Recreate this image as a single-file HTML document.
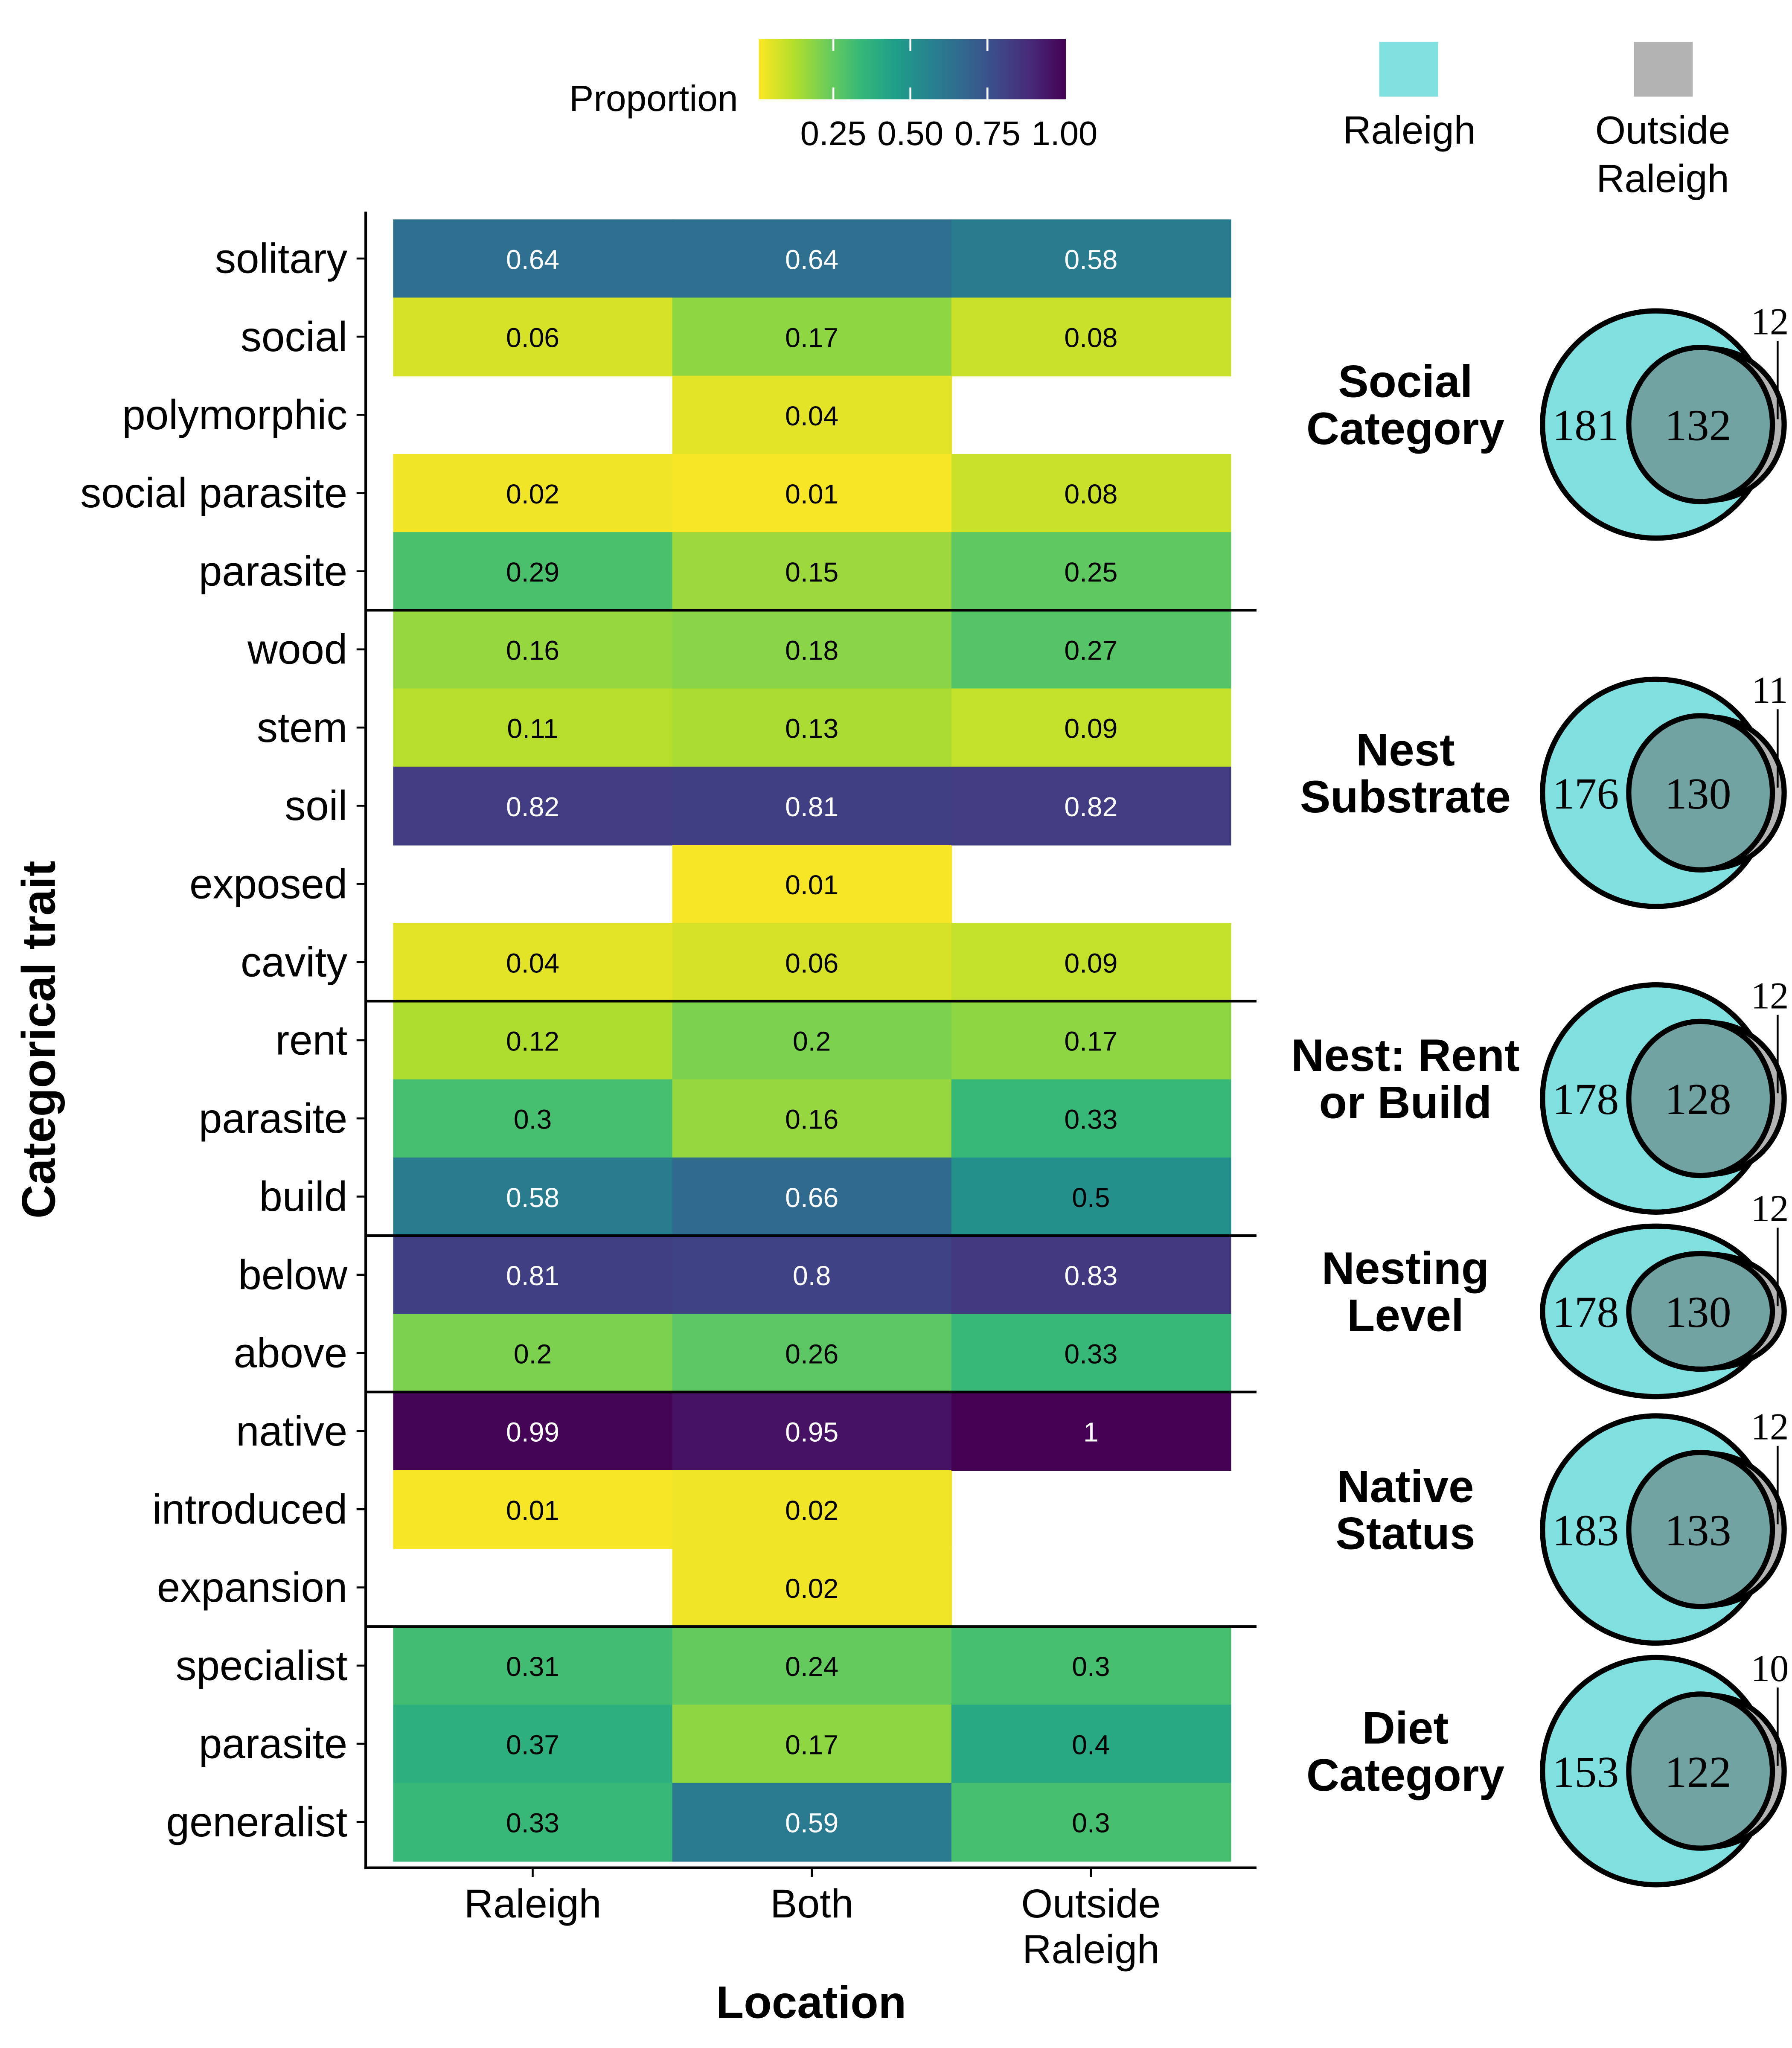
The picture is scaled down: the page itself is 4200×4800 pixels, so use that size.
<!DOCTYPE html>
<html><head><meta charset="utf-8"><style>html,body{margin:0;padding:0;background:#fff}svg{display:block}text{font-family:"Liberation Sans",sans-serif}text.serif{font-family:"Liberation Serif",serif}</style></head>
<body>
<svg id="chart" width="4200" height="4800" viewBox="0 0 1372 1568" xmlns="http://www.w3.org/2000/svg">
<defs><linearGradient id="vg" x1="0" x2="1" y1="0" y2="0">
<stop offset="0" stop-color="#fde725"/><stop offset="0.111" stop-color="#b5de2b"/><stop offset="0.222" stop-color="#6ece58"/><stop offset="0.333" stop-color="#35b779"/><stop offset="0.444" stop-color="#1f9e89"/><stop offset="0.556" stop-color="#26828e"/><stop offset="0.667" stop-color="#31688e"/><stop offset="0.778" stop-color="#3e4989"/><stop offset="0.889" stop-color="#482878"/><stop offset="1" stop-color="#440154"/></linearGradient></defs>
<g id="heat"></g>
<g id="venns"></g>
<text transform="translate(42,796) rotate(-90)" text-anchor="middle" font-size="36" font-weight="bold">Categorical trait</text>
<text x="621" y="1545" text-anchor="middle" font-size="35" font-weight="bold">Location</text>
<g>
<text x="565" y="85" text-anchor="end" font-size="28">Proportion</text>
<rect x="581" y="30" width="235" height="46" fill="url(#vg)"/>
<g stroke="#fff" stroke-width="1.5"><line x1="638" y1="30" x2="638" y2="39"/><line x1="638" y1="67" x2="638" y2="76"/><line x1="697" y1="30" x2="697" y2="39"/><line x1="697" y1="67" x2="697" y2="76"/><line x1="756" y1="30" x2="756" y2="39"/><line x1="756" y1="67" x2="756" y2="76"/></g>
<g font-size="26" text-anchor="middle"><text x="638" y="111">0.25</text><text x="697" y="111">0.50</text><text x="756" y="111">0.75</text><text x="815" y="111">1.00</text></g>
</g>
<g>
<rect x="1056" y="32" width="45" height="42" fill="#80e0e0"/>
<text x="1079" y="110" text-anchor="middle" font-size="30">Raleigh</text>
<rect x="1251" y="32" width="45" height="42" fill="#b3b3b3"/>
<text x="1273" y="110" text-anchor="middle" font-size="30">Outside</text>
<text x="1273" y="147" text-anchor="middle" font-size="30">Raleigh</text>
</g>
<script>
const rowLabels=["solitary","social","polymorphic","social parasite","parasite","wood","stem","soil","exposed","cavity","rent","parasite","build","below","above","native","introduced","expansion","specialist","parasite","generalist"];
const colLabels=["Raleigh","Both","Outside Raleigh"];
const raleighVals=[0.64,0.06,null,0.02,0.29,0.16,0.11,0.82,null,0.04,0.12,0.3,0.58,0.81,0.2,0.99,0.01,null,0.31,0.37,0.33];
const bothVals=[0.64,0.17,0.04,0.01,0.15,0.18,0.13,0.81,0.01,0.06,0.2,0.16,0.66,0.8,0.26,0.95,0.02,0.02,0.24,0.17,0.59];
const outsideVals=[0.58,0.08,null,0.08,0.25,0.27,0.09,0.82,null,0.09,0.17,0.33,0.5,0.83,0.33,1,null,null,0.3,0.4,0.3];
const groupBreaks=[5,10,13,15,18];
const vennTitles=[["Social","Category"],["Nest","Substrate"],["Nest: Rent","or Build"],["Nesting","Level"],["Native","Status"],["Diet","Category"]];
const vennRaleighOnly=[181,176,178,178,183,153];
const vennBoth=[132,130,128,130,133,122];
const vennOutsideOnly=[12,11,12,12,12,10];
const vennCenters=[325,607,841,1004,1171,1356];
const vennScaleY=[1,1,1,0.75,1,1];

const NS="http://www.w3.org/2000/svg";
function mk(t,a,p,txt){const e=document.createElementNS(NS,t);for(const k in a)e.setAttribute(k,a[k]);if(txt!==undefined)e.textContent=txt;p.appendChild(e);return e;}
const stops=["#fde725","#b5de2b","#6ece58","#35b779","#1f9e89","#26828e","#31688e","#3e4989","#482878","#440154"];
function hex(h){return [1,3,5].map(i=>parseInt(h.substr(i,2),16));}
function color(v){const t=Math.max(0,Math.min(1,v))*9;const i=Math.min(8,Math.floor(t));const f=t-i;const a=hex(stops[i]),b=hex(stops[i+1]);return "rgb("+a.map((x,k)=>Math.round(x+(b[k]-x)*f)).join(",")+")";}
const x0=301,cw=213.7,y0=168,rh=59.85;
const xScale=c=>x0+c*cw, yScale=r=>y0+r*rh;
const heat=document.getElementById('heat');
const cols=[raleighVals,bothVals,outsideVals];
cols.forEach((vals,c)=>{vals.forEach((v,r)=>{if(v===null)return;
 const rc=mk('rect',{x:xScale(c),y:yScale(r),width:cw+0.5,height:rh+0.5,fill:color(v)},heat);
 
 
 const t=mk('text',{x:xScale(c)+cw/2,y:yScale(r)+rh/2+8,'text-anchor':'middle','font-size':21,fill:v>0.55?'#fff':'#000'},heat,String(v));
 
 
});});
rowLabels.forEach((l,r)=>{const yc=yScale(r)+rh/2;
 const t=mk('text',{x:266,y:yc+11,'text-anchor':'end','font-size':32},heat,l);
 
 
 mk('line',{x1:273,x2:280,y1:yc,y2:yc,stroke:'#000','stroke-width':1.5},heat);});
colLabels.forEach((l,c)=>{const xc=xScale(c)+cw/2;
 mk('line',{x1:xc,x2:xc,y1:1430,y2:1437,stroke:'#000','stroke-width':1.5},heat);
 const parts=l==="Outside Raleigh"?["Outside","Raleigh"]:[l];
 parts.forEach((p,i)=>{const t=mk('text',{x:xc,y:1468+i*35,'text-anchor':'middle','font-size':31},heat,p);
 
 });});
groupBreaks.forEach(b=>{const l=mk('line',{x1:280,x2:962,y1:yScale(b),y2:yScale(b),stroke:'#000','stroke-width':2},heat);
 
 });
mk('line',{x1:280,x2:280,y1:162,y2:1431,stroke:'#000','stroke-width':2},heat);
mk('line',{x1:279,x2:962,y1:1430,y2:1430,stroke:'#000','stroke-width':2},heat);

const venns=document.getElementById('venns');
vennTitles.forEach((tt,i)=>{const cy=vennCenters[i],s=vennScaleY[i];
 const g=mk('g',{},venns);
 
 
 tt.forEach((p,k)=>{mk('text',{x:1076,y:cy-21+k*36,'text-anchor':'middle','font-size':35,'font-weight':'bold'},g,p);});
 mk('ellipse',{cx:1268,cy:cy,rx:87,ry:87*s,fill:'#80e0e0',stroke:'#000','stroke-width':4},g);
 mk('ellipse',{cx:1309,cy:cy,rx:57,ry:58*s,fill:'#b3b3b3',stroke:'#000','stroke-width':4},g);
 mk('ellipse',{cx:1302,cy:cy,rx:55,ry:59*s,fill:'#72a3a3',stroke:'#000','stroke-width':4},g);
 mk('line',{x1:1361,x2:1361,y1:cy-64,y2:cy-4,stroke:'#000','stroke-width':1.5},g);
 mk('text',{x:1214,y:cy+12,'text-anchor':'middle','font-size':34,'class':'serif'},g,vennRaleighOnly[i]);
 mk('text',{x:1300,y:cy+12,'text-anchor':'middle','font-size':34,'class':'serif'},g,vennBoth[i]);
 mk('text',{x:1355,y:cy-69,'text-anchor':'middle','font-size':29,'class':'serif'},g,vennOutsideOnly[i]);
});
</script>
</svg>
</body></html>
